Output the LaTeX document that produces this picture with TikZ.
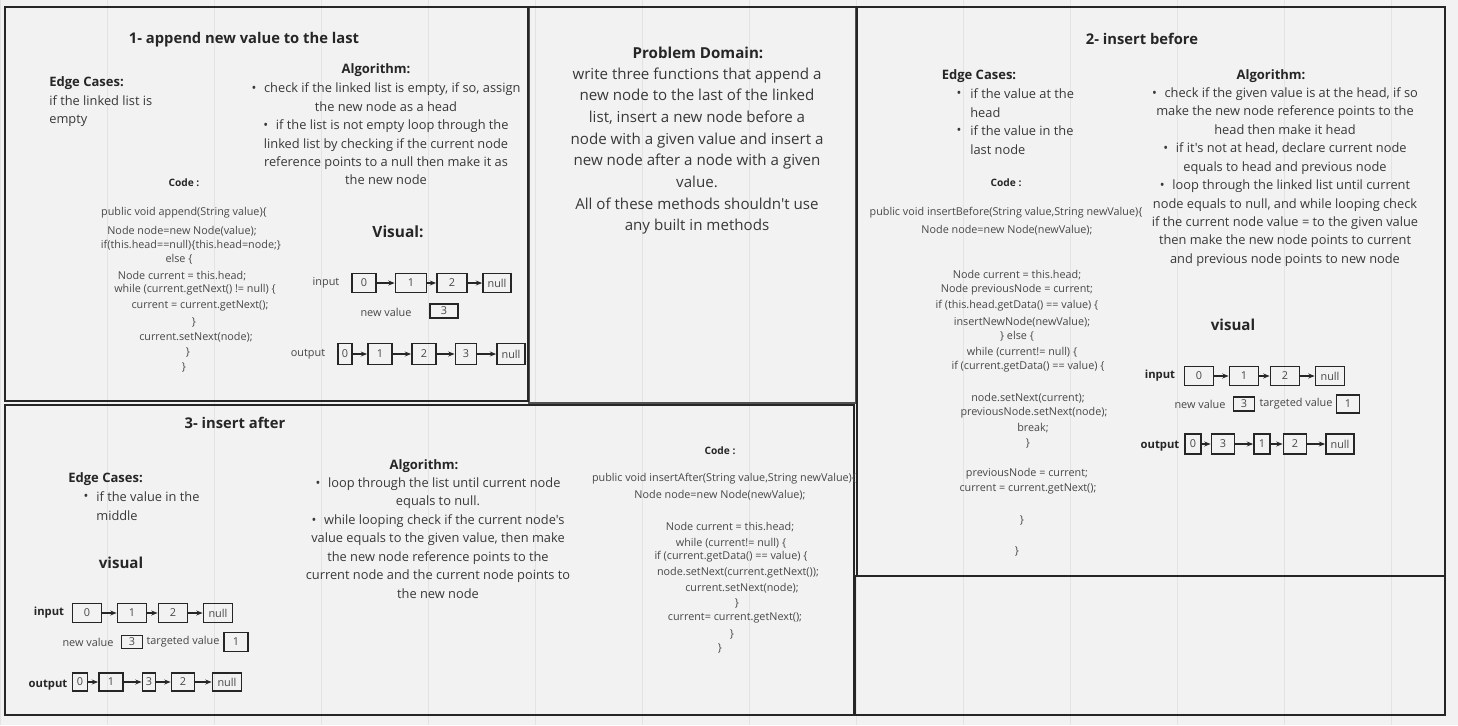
\documentclass[tikz,border=0pt]{standalone}
\usepackage{fontspec}
\setmainfont{Open Sans}[Ligatures=TeXOff]
\usetikzlibrary{arrows.meta}

\definecolor{paper}{HTML}{F2F2F2}
\definecolor{gridline}{HTML}{E3E3E3}
\definecolor{ink}{HTML}{262626}
\definecolor{bodytext}{HTML}{383838}
\definecolor{codetext}{HTML}{474747}

\begin{document}
\begin{tikzpicture}[x=0.02cm, y=-0.02cm,
    frame/.style={draw=ink, line width=1.5pt},
    thinframe/.style={draw=ink!80, line width=1pt},
    heading/.style={inner sep=0, text=ink, font=\bfseries\fontsize{8.4}{10}\selectfont},
    subhead/.style={inner sep=0, text=ink, font=\bfseries\fontsize{7.4}{9}\selectfont},
    codehead/.style={inner sep=0, text=ink, font=\bfseries\fontsize{5.8}{7}\selectfont},
    visualhead/.style={inner sep=0, text=ink, font=\bfseries\fontsize{8.8}{11}\selectfont},
    rowhead/.style={inner sep=0, text=ink, font=\bfseries\fontsize{6.4}{8}\selectfont},
    body/.style={inner sep=0, text=bodytext, align=center, font=\fontsize{7.3}{10.5}\selectfont},
    domaintext/.style={inner sep=0, text=bodytext, align=center, font=\fontsize{8.6}{12.3}\selectfont},
    codeline/.style={inner sep=0, text=codetext, font=\fontsize{6.15}{8.8}\selectfont},
    smalltext/.style={inner sep=0, text=codetext, font=\fontsize{6.2}{8}\selectfont},
    cell/.style={draw=ink, line width=1pt, inner sep=0, text=codetext,
        font=\fontsize{6.2}{7}\selectfont, minimum height=10.8pt},
    link/.style={draw=ink, line width=0.6pt, -{Stealth[length=3.6pt,width=2.8pt]}}]

    %%%%% BACKGROUND %%%%%
    \useasboundingbox (0,0) rectangle (1458,725);
    \fill[paper] (0,0) rectangle (1458,725);
    \draw[gridline, line width=0.5pt, shift={(0,67)}, xstep=107, ystep=107] (0,-67) grid (1458,658);

    %%%%% FRAMES %%%%%
    \draw[thinframe] (529,7) rectangle (856,403);
    \draw[frame] (529,7) -- (856,7);
    \draw[frame] (5,7) rectangle (528,401);
    \draw[frame] (857,7) rectangle (1445,576);
    \draw[frame] (5,405) rectangle (854,715);
    \draw[frame] (855,576) rectangle (1445,715);

    %%%%% 1- APPEND %%%%%
    \node[heading] (t1) at (244,40) {1- append new value to the last};

    \node[subhead, anchor=west] (e1) at (49,83) {Edge Cases:};
    \node[body, anchor=west, align=left] (e1t) at (49,111) {if the linked list is\\empty};

    \node[subhead] (a1) at (376,70) {Algorithm:};
    \node[body] (a1t) at (386,134) {•\hspace{0.6em}check if the linked list is empty, if so, assign\\the new node as a head\\•\hspace{0.6em}if the list is not empty loop through the\\linked list by checking if the current node\\reference points to a null then make it as\\the new node};

    \node[codehead] (k1) at (184,183) {Code :};
    \node[codeline] (k1a) at (184,213) {public void append(String value)\{};
    \node[codeline] (k1b) at (182,231) {Node node=new Node(value);};
    \node[codeline] (k1c) at (191,245) {if(this.head==null)\{this.head=node;\}};
    \node[codeline] (k1d) at (179,259) {else \{};
    \node[codeline] (k1e) at (182,276) {Node current = this.head;};
    \node[codeline] (k1f) at (195,290) {while (current.getNext() != null) \{};
    \node[codeline] (k1g) at (200,306) {current = current.getNext();};
    \node[codeline] (k1h) at (194,322) {\}};
    \node[codeline] (k1i) at (196,337) {current.setNext(node);};
    \node[codeline] (k1j) at (188,352) {\}};
    \node[codeline] (k1k) at (184,367) {\}};

    \node[visualhead] (v1) at (398,232) {Visual:};

    \node[smalltext] (in1) at (326,283) {input};
    \node[cell, minimum width=13.7pt] (p0) at (364,283) {0};
    \node[cell, minimum width=17.6pt] (p1) at (411,283) {1};
    \node[cell, minimum width=17.1pt] (p2) at (452,283) {2};
    \node[cell, minimum width=15.9pt] (pn) at (497,283) {null};
    \draw[link] (p0) -- (p1);
    \draw[link] (p1) -- (p2);
    \draw[link] (p2) -- (pn);

    \node[smalltext] (nv1) at (386,312) {new value};
    \node[cell, minimum width=15.9pt, minimum height=8pt] (p3) at (444,311) {3};

    \node[smalltext] (out1) at (308,354) {output};
    \node[cell, minimum width=8pt, minimum height=12pt] (q0) at (345,354) {0};
    \node[cell, minimum width=13.7pt, minimum height=12pt] (q1) at (380,354) {1};
    \node[cell, minimum width=13.7pt, minimum height=12pt] (q2) at (424,354) {2};
    \node[cell, minimum width=12pt, minimum height=12pt] (q3) at (466,354) {3};
    \node[cell, minimum width=15.9pt, minimum height=12pt] (qn) at (511,354) {null};
    \draw[link] (q0) -- (q1);
    \draw[link] (q1) -- (q2);
    \draw[link] (q2) -- (q3);
    \draw[link] (q3) -- (qn);

    %%%%% PROBLEM DOMAIN %%%%%
    \node[subhead, font=\bfseries\fontsize{8.6}{10}\selectfont] (pd) at (698,53) {Problem Domain:};
    \node[domaintext] (pdt) at (697,151) {write three functions that append a\\new node to the last of the linked\\list, insert a new node before a\\node with a given value and insert a\\new node after a node with a given\\value.\\All of these methods shouldn't use\\any built in methods};

    %%%%% 2- INSERT BEFORE %%%%%
    \node[heading] (t2) at (1142,39) {2- insert before};

    \node[subhead] (e2) at (979,76) {Edge Cases:};
    \node[body] (e2b1) at (959,94) {•};
    \node[body, anchor=west, align=left] (e2t1) at (970,103) {if the value at the\\head};
    \node[body] (e2b2) at (959,131) {•};
    \node[body, anchor=west, align=left] (e2t2) at (970,140) {if the value in the\\last node};

    \node[subhead] (a2) at (1271,76) {Algorithm:};
    \node[body] (a2t) at (1285,177) {•\hspace{0.6em}check if the given value is at the head, if so\\make the new node reference points to the\\head then make it head\\•\hspace{0.6em}if it's not at head, declare current node\\equals to head and previous node\\•\hspace{0.6em}loop through the linked list until current\\node equals to null, and while looping check\\if the current node value = to the given value\\then make the new node points to current\\and previous node points to new node};

    \node[codehead] (k2) at (1006,183) {Code :};
    \node[codeline] (k2a) at (1006,213) {public void insertBefore(String value,String newValue)\{};
    \node[codeline] (k2b) at (1007,230) {Node node=new Node(newValue);};
    \node[codeline] (k2c) at (1017,275) {Node current = this.head;};
    \node[codeline] (k2d) at (1017,290) {Node previousNode = current;};
    \node[codeline] (k2e) at (1017,306) {if (this.head.getData() == value) \{};
    \node[codeline] (k2f) at (1022,322) {insertNewNode(newValue);};
    \node[codeline] (k2g) at (1017,336) {\} else \{};
    \node[codeline] (k2h) at (1022,352) {while (current!= null) \{};
    \node[codeline] (k2i) at (1028,367) {if (current.getData() == value) \{};
    \node[codeline] (k2j) at (1028,398) {node.setNext(current);};
    \node[codeline] (k2k) at (1034,413) {previousNode.setNext(node);};
    \node[codeline] (k2l) at (1033,428) {break;};
    \node[codeline] (k2m) at (1028,443) {\}};
    \node[codeline] (k2n) at (1027,474) {previousNode = current;};
    \node[codeline] (k2o) at (1028,489) {current = current.getNext();};
    \node[codeline] (k2p) at (1022,520) {\}};
    \node[codeline] (k2q) at (1017,551) {\}};

    \node[visualhead, font=\bfseries\fontsize{8.6}{10}\selectfont] (v2) at (1233,325) {visual};

    \node[rowhead] (in2) at (1160,376) {input};
    \node[cell, minimum width=16.5pt] (r0) at (1199,376) {0};
    \node[cell, minimum width=16.5pt] (r1) at (1244,376) {1};
    \node[cell, minimum width=16.5pt] (r2) at (1285,376) {2};
    \node[cell, minimum width=16.5pt] (rn) at (1330,376) {null};
    \draw[link] (r0) -- (r1);
    \draw[link] (r1) -- (r2);
    \draw[link] (r2) -- (rn);

    \node[smalltext] (nv2) at (1200,404) {new value};
    \node[cell, minimum width=12pt, minimum height=8pt] (r3) at (1244,404) {3};
    \node[smalltext] (tv2) at (1296,404) {targeted value};
    \node[cell, minimum width=13.1pt, minimum height=10.2pt] (rt) at (1348,404) {1};

    \node[rowhead] (out2) at (1160,446) {output};
    \node[cell, minimum width=9.1pt, minimum height=11.4pt] (s0) at (1193,444) {0};
    \node[cell, minimum width=13.1pt, minimum height=11.4pt] (s3) at (1223,444) {3};
    \node[cell, minimum width=9.1pt, minimum height=11.4pt] (s1) at (1262,444) {1};
    \node[cell, minimum width=13.1pt, minimum height=11.4pt] (s2) at (1295,444) {2};
    \node[cell, minimum width=15.9pt, minimum height=11.4pt] (sn) at (1340,444) {null};
    \draw[link] (s0) -- (s3);
    \draw[link] (s3) -- (s1);
    \draw[link] (s1) -- (s2);
    \draw[link] (s2) -- (sn);

    %%%%% 3- INSERT AFTER %%%%%
    \node[heading] (t3) at (235,423) {3- insert after};

    \node[subhead, anchor=west] (e3) at (68,479) {Edge Cases:};
    \node[body] (e3b) at (86,497) {•};
    \node[body, anchor=west, align=left] (e3t) at (96,506) {if the value in the\\middle};

    \node[subhead] (a3) at (424,466) {Algorithm:};
    \node[body] (a3t) at (438,538) {•\hspace{0.6em}loop through the list until current node\\equals to null.\\•\hspace{0.6em}while looping check if the current node's\\value equals to the given value, then make\\the new node reference points to the\\current node and the current node points to\\the new node};

    \node[codehead] (k3) at (720,451) {Code :};
    \node[codeline] (k3a) at (724,479) {public void insertAfter(String value,String newValue)\{};
    \node[codeline] (k3b) at (720,495) {Node node=new Node(newValue);};
    \node[codeline] (k3c) at (730,527) {Node current = this.head;};
    \node[codeline] (k3d) at (731,543) {while (current!= null) \{};
    \node[codeline] (k3e) at (731,557) {if (current.getData() == value) \{};
    \node[codeline] (k3f) at (738,573) {node.setNext(current.getNext());};
    \node[codeline] (k3g) at (742,588) {current.setNext(node);};
    \node[codeline] (k3h) at (737,603) {\}};
    \node[codeline] (k3i) at (735,618) {current= current.getNext();};
    \node[codeline] (k3j) at (732,634) {\}};
    \node[codeline] (k3k) at (720,648) {\}};

    \node[visualhead, font=\bfseries\fontsize{8.6}{10}\selectfont] (v3) at (121,563) {visual};

    \node[rowhead] (in3) at (49,613) {input};
    \node[cell, minimum width=16.5pt] (u0) at (87,613) {0};
    \node[cell, minimum width=16.5pt] (u1) at (132,613) {1};
    \node[cell, minimum width=16.5pt] (u2) at (173,613) {2};
    \node[cell, minimum width=16.5pt] (un) at (218,613) {null};
    \draw[link] (u0) -- (u1);
    \draw[link] (u1) -- (u2);
    \draw[link] (u2) -- (un);

    \node[smalltext] (nv3) at (88,642) {new value};
    \node[cell, minimum width=12pt, minimum height=7.4pt] (u3) at (132,642) {3};
    \node[smalltext] (tv3) at (183,642) {targeted value};
    \node[cell, minimum width=13.7pt, minimum height=10.8pt] (ut) at (236,642) {1};

    \node[rowhead] (out3) at (48,685) {output};
    \node[cell, minimum width=8.5pt, minimum height=10.2pt] (w0) at (80,682) {0};
    \node[cell, minimum width=13.7pt, minimum height=10.2pt] (w1) at (111,682) {1};
    \node[cell, minimum width=7.4pt, minimum height=10.2pt] (w3) at (149,682) {3};
    \node[cell, minimum width=13.1pt, minimum height=10.2pt] (w2) at (183,682) {2};
    \node[cell, minimum width=16.5pt, minimum height=10.2pt] (wn) at (227,682) {null};
    \draw[link] (w0) -- (w1);
    \draw[link] (w1) -- (w3);
    \draw[link] (w3) -- (w2);
    \draw[link] (w2) -- (wn);

\end{tikzpicture}
\end{document}
